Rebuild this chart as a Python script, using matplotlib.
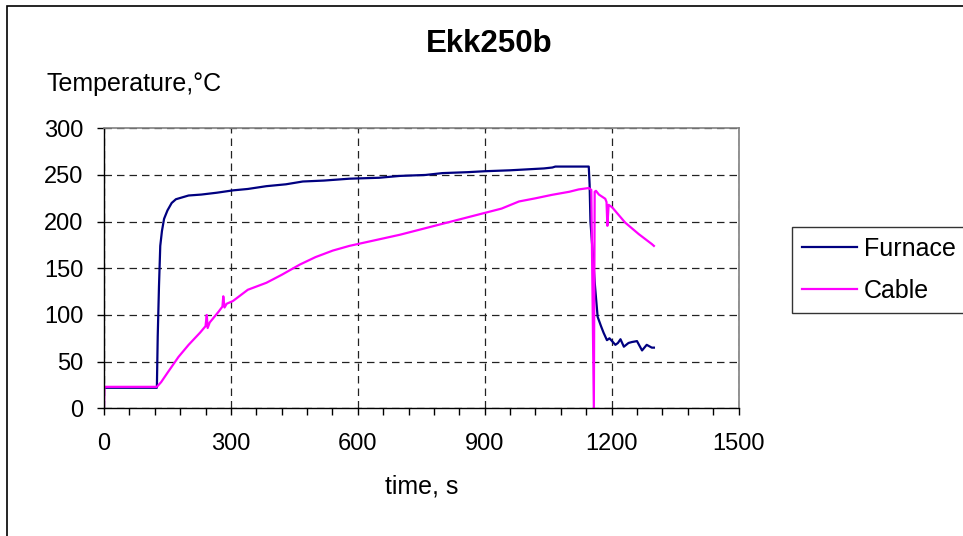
import matplotlib
matplotlib.use("Agg")
import matplotlib.pyplot as plt
from matplotlib.patches import Rectangle
from matplotlib.ticker import MultipleLocator

plt.rcParams['font.family'] = ['Liberation Sans', 'DejaVu Sans']

# readings (time in s, temperature in degC)
furnace_t = [0, 125, 127, 130, 133, 137, 142, 150, 160, 170, 185, 200, 230, 267,
             305, 340, 384, 430, 470, 520, 580, 650, 700, 760, 800, 860, 900, 960,
             1000, 1040, 1060, 1067, 1146, 1148, 1150, 1155, 1160, 1167, 1175, 1181,
             1189, 1195, 1201, 1209, 1215, 1221, 1229, 1240, 1248, 1260, 1272, 1283,
             1295, 1300]
furnace_T = [22, 22, 77, 131, 174, 190, 203, 212, 220, 224, 226, 228, 229, 231,
             233.5, 235, 238, 240, 243, 244, 246, 247, 249, 250, 252, 253, 254, 255,
             256, 257, 258, 259, 259, 240, 200, 169, 135, 98, 88, 81,
             73, 75, 72, 68, 70, 74, 66, 70, 71, 72, 62, 68,
             65, 65]

cable_t = [0, 1, 125, 135, 150, 176, 200, 227, 240, 243, 245, 250, 270, 280, 282,
           285, 290, 305, 340, 384, 420, 463, 500, 541, 580, 640, 700, 760, 820,
           880, 940, 981, 1020, 1059, 1100, 1122, 1146, 1152, 1158, 1160, 1163,
           1170, 1185, 1188, 1190, 1193, 1201, 1232, 1264, 1295, 1300]
cable_T = [0, 23, 23, 28, 38, 55, 68, 81, 88, 100, 86, 92, 103, 109, 120,
           108, 112, 115, 127, 134.5, 143, 154, 162, 169, 174, 180, 186, 193, 200,
           207, 214, 221.6, 225, 228.7, 232, 234.5, 236, 234, 0, 232, 233,
           229, 224.5, 221, 195.5, 218, 215.5, 199, 186.7, 176, 174]

W, H = 963, 536
fig = plt.figure(figsize=(W / 100, H / 100), dpi=100)
ax = fig.add_axes([104 / W, 1 - 408.3 / H, (738.5 - 104) / W, (408.3 - 128.3) / H])

# outer chart border
fig.patches.append(Rectangle((7 / W, -0.01), 1.0, 1 - 6 / H + 0.01,
                             transform=fig.transFigure, fill=False,
                             edgecolor='black', linewidth=1.2))

ax.plot(furnace_t, furnace_T, color='#000080', lw=1.6, label='Furnace')
ax.plot(cable_t, cable_T, color='#FF00FF', lw=1.6, label='Cable')

ax.set_xlim(0, 1500)
ax.set_ylim(0, 300)
ax.xaxis.set_major_locator(MultipleLocator(300))
ax.xaxis.set_minor_locator(MultipleLocator(60))
ax.yaxis.set_major_locator(MultipleLocator(50))
ax.grid(True, which='major', color='#222222', linestyle=(0, (6, 4)), lw=0.9)
ax.set_axisbelow(True)

for s in ['top', 'right']:
    ax.spines[s].set_color('#808080')
    ax.spines[s].set_linewidth(1.2)
for s in ['left', 'bottom']:
    ax.spines[s].set_color('black')
    ax.spines[s].set_linewidth(1.0)

ax.tick_params(axis='x', which='both', direction='out', length=5, width=1,
               labelsize=17, pad=13)
ax.tick_params(axis='y', which='major', direction='out', length=5, width=1,
               labelsize=17, pad=10)

ax.set_xlabel('time, s', fontsize=18, labelpad=14)

fig.text(489 / W, 1 - 44 / H, 'Ekk250b', ha='center', va='center',
         fontsize=22.5, fontweight='bold')
fig.text(46.5 / W, 1 - 90.7 / H, 'Temperature,\u00b0C', ha='left', va='baseline',
         fontsize=18)

leg = fig.legend(loc='upper left', bbox_to_anchor=(792 / W, 1 - 227 / H),
                 fontsize=18, frameon=True, fancybox=False, handlelength=2.2,
                 handletextpad=0.28, borderpad=0.4, labelspacing=0.7,
                 borderaxespad=0)
leg.get_frame().set_edgecolor('black')
leg.get_frame().set_linewidth(1.0)

fig.savefig('out.png', dpi=100)
